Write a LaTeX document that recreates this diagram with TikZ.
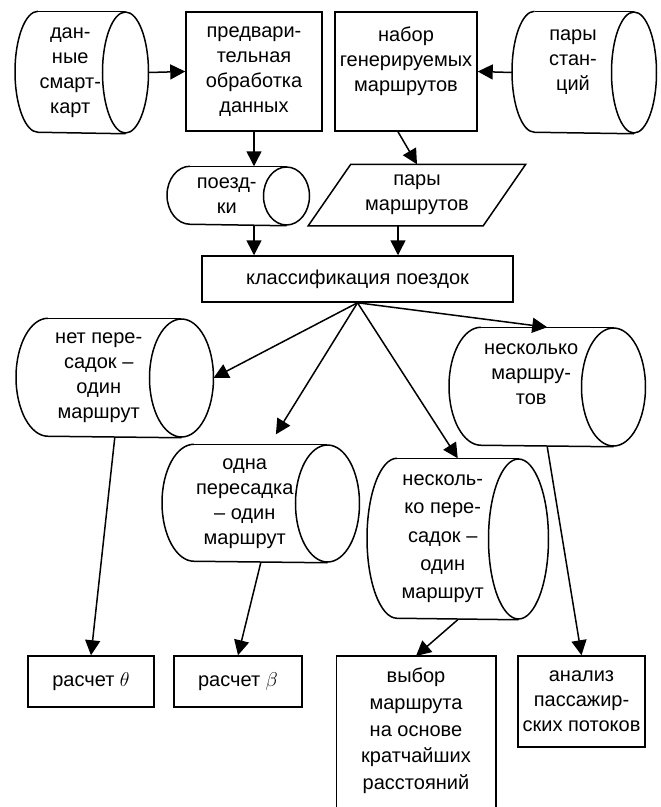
\documentclass[tikz,border=0pt]{standalone}
\usepackage{fontspec}
\setmainfont{Liberation Sans}
\usetikzlibrary{arrows.meta}

\begin{document}
\begin{tikzpicture}[x=0.6pt, y=-0.6pt, line width=0.9pt,
    every node/.style={font=\fontsize{12}{15}\selectfont, align=center, inner sep=2pt},
    box/.style={draw, rectangle},
    drum/.style={rectangle, anchor=west},
    link/.style={-{Triangle[length=9pt,width=9pt]}}]
    \useasboundingbox (0,0) rectangle (661,807) ;
    % top row
    \node[drum, minimum width=65.4pt, minimum height=72.6pt] (smart) at (15,72.5) {дан-\\ные\\смарт-\\карт} ;
    \node[box, minimum width=81.6pt, minimum height=71.4pt] (prep) at (254,71.5) {предвари-\\тельная\\обработка\\данных} ;
    \node[box, minimum width=85.2pt, minimum height=71.4pt] (routes) at (406,71.5) {набор\\генерируемых\\маршрутов\\ \mbox{}} ;
    \node[drum, minimum width=72.3pt, minimum height=72.6pt] (stations) at (512,72.5) {пары\\стан-\\ций\\ \mbox{}} ;
    % second row
    \node[drum, minimum width=70.8pt, minimum height=34.8pt] (trips) at (167,196) {поезд-\\ки} ;
    \node[minimum width=129.6pt, minimum height=36pt] (pairs) at (417,195) {пары\\маршрутов} ;
    \draw ([xshift=25.5pt]pairs.north west) -- (pairs.north east) -- ([xshift=-25.5pt]pairs.south east) -- (pairs.south west) -- cycle ;
    \node[box, minimum width=186.6pt, minimum height=27.6pt] (class) at (357.5,279) {классификация поездок} ;
    % kinds of trips
    \node[drum, minimum width=98.4pt, minimum height=70.8pt] (none) at (16,378) {нет пере-\\садок –\\один\\маршрут} ;
    \node[drum, minimum width=98.4pt, minimum height=70.2pt] (one) at (162,503.5) {одна\\пересадка\\– один\\маршрут} ;
    \node[drum, minimum width=97.8pt, minimum height=70.8pt] (multiroute) at (449,387) {несколько\\маршру-\\тов\\ \mbox{}} ;
    \node[drum, minimum width=90pt, minimum height=96pt, font=\fontsize{12}{17}\selectfont] (multi) at (367,539) {несколь-\\ко пере-\\садок –\\один\\маршрут} ;
    \foreach \n/\rx/\ry in {smart/13.8pt/36.3pt, stations/13.5pt/36.3pt, trips/13.8pt/17.4pt,
        none/19.2pt/35.4pt, one/19.2pt/35.1pt, multiroute/19.2pt/35.4pt, multi/18pt/48pt}
    {
        \draw ([xshift=\rx]\n.north west) arc[start angle=90, end angle=270, x radius=\rx, y radius=\ry]
            -- (\n.south east) ;
        \draw ([xshift=\rx]\n.north west) -- (\n.north east) ;
        \draw (\n.east) ellipse [x radius=\rx, y radius=\ry] ;
    }
    % results
    \node[box, minimum width=75.6pt, minimum height=30.6pt] (theta) at (91,681.5) {расчет $\theta$} ;
    \node[box, minimum width=76.8pt, minimum height=30.6pt] (beta) at (238,681.5) {расчет $\beta$} ;
    \node[minimum width=94.8pt, inner ysep=6.8pt, anchor=north, font=\fontsize{12}{16}\selectfont] (choice) at (416,656) {выбор\\маршрута\\на основе\\кратчайших\\расстояний} ;
    \draw (choice.north west) ++(0,170) -- (choice.north west) -- (choice.north east) -- ++(0,170) ;
    \node[box, minimum width=76.2pt, minimum height=54.6pt] (analysis) at (581.5,701.5) {анализ\\пассажир-\\ских потоков} ;
    % connectors
    \draw[link] ([xshift=13.8pt]smart.east) -- (prep.west) ;
    \draw[link] (stations.west) -- (routes.east) ;
    \draw[link] (prep.south) -- (prep.south |- trips.north) ;
    \draw[link] ([xshift=-4.8pt]routes.south) -- (pairs.north) ;
    \draw[link] (trips.south -| prep.south) -- (class.north -| prep.south) ;
    \draw[link] ([xshift=-11.4pt]pairs.south) -- ([xshift=-11.4pt]pairs.south |- class.north) ;
    \draw[link] (class.south) -- ([xshift=19.2pt]none.east) ;
    \draw[link, shorten >=7pt] (class.south) -- ([xshift=15pt]one.north) ;
    \draw[link] (class.south) -- ([xshift=9pt]multi.north) ;
    \draw[link] (class.south) -- ([xshift=9.6pt]multiroute.north) ;
    \draw[link] ([xshift=9.6pt]none.south) -- (theta.north) ;
    \draw[link] ([xshift=9.6pt]one.south) -- (beta.north) ;
    \draw[link] ([xshift=9pt]multi.south) -- (choice.north) ;
    \draw[link] ([xshift=9.6pt]multiroute.south) -- (analysis.north) ;
\end{tikzpicture}
\end{document}
